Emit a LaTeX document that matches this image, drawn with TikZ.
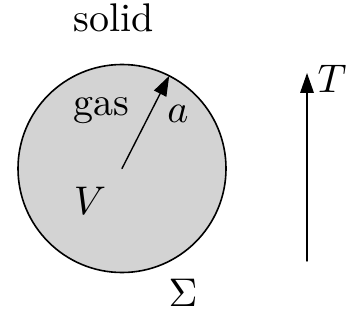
\documentclass[tikz,border=0pt]{standalone}
\usepackage{amsmath,amssymb}
\usepackage{xcolor}
\usepackage{tikz}
\usetikzlibrary{arrows.meta,positioning,calc}
\definecolor{gasgray}{RGB}{211,211,211}
\definecolor{ink}{HTML}{000000}
\tikzset{
    every picture/.style={line cap=round,line join=round},
    ballnode/.style={draw=ink,circle,fill=gasgray,line width=0.4pt,
      minimum size=52pt,inner sep=0pt,outer sep=0pt},
    labeltext/.style={text=ink,inner sep=0pt,font=\normalsize},
    flowarrow/.style={-{Triangle[length=5pt,width=3.4pt]},draw=ink,
      line width=0.35pt}
}
\begin{document}
\begin{tikzpicture}[x=0.25pt,y=-0.25pt]
  \useasboundingbox (0,0) rectangle (351,320);

  \node[ballnode] (ball) at (122,168.5) {};
  \node[labeltext] (solid) at (114,18) {solid};
  \node[labeltext] (gas) at (101,111) {gas};
  \node[labeltext] (rad) at (178,114) {\(a\)};
  \node[labeltext] (vol) at (90,201) {\(V\)};
  \node[labeltext] (surf) at (183,293) {\(\Sigma\)};
  \draw[flowarrow] (ball.center) -- (ball.63.5);

  \coordinate (tbase) at (307,261);
  \coordinate (ttop) at (307,73);
  \draw[flowarrow] (tbase) -- (ttop);
  \node[labeltext] (temp) at ($(ttop)+(25,6)$) {\(T\)};
\end{tikzpicture}
\end{document}
